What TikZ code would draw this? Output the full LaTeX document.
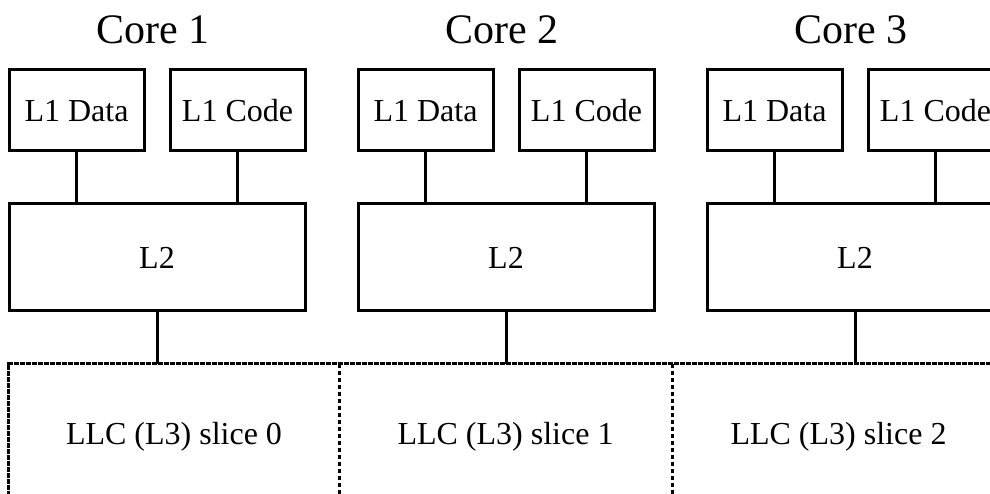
\documentclass[tikz,border=0pt]{standalone}
\usepackage{fontspec}
\setmainfont{Liberation Serif}
\begin{document}
\begin{tikzpicture}[x=1pt,y=-1pt,
  label text/.style={font=\fontsize{32}{38}\selectfont, text height=22pt, text depth=0pt},
  box/.style={draw, line width=3pt, inner sep=0pt, label text},
  l1box/.style={box, minimum width=135pt, minimum height=81pt},
  l2box/.style={box, minimum width=296pt, minimum height=107pt},
  slicebox/.style={inner sep=0pt, minimum height=138pt, label text},
  title/.style={anchor=base, inner sep=0pt, font=\fontsize{42}{48}\selectfont},
  link/.style={line width=3pt},
  outer/.style={line width=3pt, dash pattern=on 5pt off 1pt},
  divider/.style={line width=2.6pt, dash pattern=on 4pt off 3pt}]
\useasboundingbox (0,0) rectangle (990,493);
\clip (0,0) rectangle (990,493);

% three cores, each with split L1 and a private L2
\foreach \i/\dx in {1/0, 2/349, 3/698} {
  \node[title] (title\i) at (153+\dx, 43) {Core \i};
  \node[l1box] (l1d\i) at (76.5+\dx, 110) {L1 Data};
  \node[l1box] (l1c\i) at (237.5+\dx, 110) {L1 Code};
  \node[l2box] (l2\i)  at (157+\dx, 257) {L2};
  \draw[link] (l1d\i.south) -- (l1d\i.south |- l2\i.north);
  \draw[link] (l1c\i.south) -- (l1c\i.south |- l2\i.north);
}

% shared last-level cache, one slice per core
\node[slicebox, minimum width=330pt] (s0) at (174, 433) {LLC (L3) slice 0};
\node[slicebox, minimum width=333pt] (s1) at (505.5, 433) {LLC (L3) slice 1};
\node[slicebox, minimum width=333pt] (s2) at (838.5, 433) {LLC (L3) slice 2};

\draw[outer] (s0.south west) rectangle (s2.north east);
\draw[divider] (s0.north east) -- (s0.south east);
\draw[divider] (s1.north east) -- (s1.south east);

% each L2 attaches to the LLC
\foreach \i in {1,2,3} {
  \draw[link] (l2\i.south) -- (l2\i.south |- s0.north);
}
\end{tikzpicture}
\end{document}
